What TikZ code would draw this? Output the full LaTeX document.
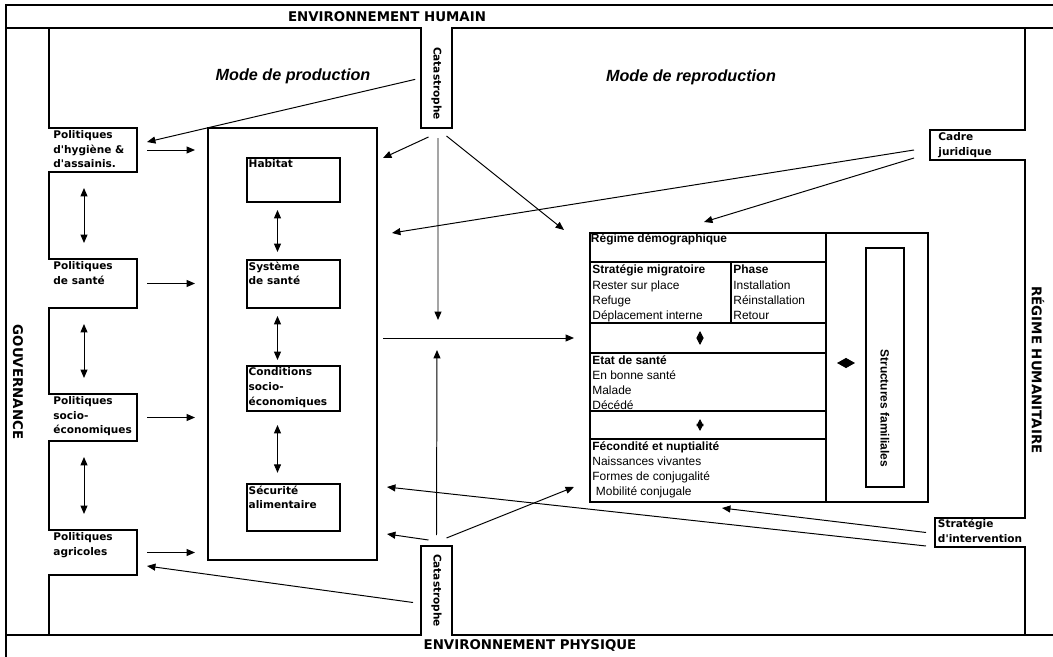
\documentclass[tikz,border=0pt]{standalone}
\usepackage{fontspec}
\newfontfamily\verd{DejaVu Sans}
\newfontfamily\arial{Liberation Sans}
\usetikzlibrary{arrows.meta,fit}

\begin{document}
\begin{tikzpicture}[x=0.025cm, y=-0.025cm,
    frame/.style={line width=1.1pt},
    zone/.style={inner sep=0pt, outer sep=0pt},
    cell/.style={draw, line width=0.8pt, inner sep=0pt, outer sep=0pt},
    vb/.style={font=\verd\bfseries\fontsize{7.5}{10.5}\selectfont},
    band/.style={font=\verd\bfseries\fontsize{9.5}{11}\selectfont},
    ar/.style={font=\arial\fontsize{8.5}{10.7}\selectfont},
    mode/.style={font=\arial\bfseries\itshape\fontsize{11.5}{13}\selectfont},
    txt/.style={anchor=north west, align=left, inner sep=1.5pt},
    arr/.style={-{Triangle[length=6pt,width=5pt]}, line width=0.7pt},
    dbl/.style={{Triangle[length=6pt,width=5pt]}-{Triangle[length=6pt,width=5pt]}, line width=0.7pt},
    vdia/.style={{Triangle[length=5pt,width=5pt]}-{Triangle[length=5pt,width=5pt]}, line width=0.7pt, shorten <=0.2cm, shorten >=0.2cm},
    hdia/.style={{Triangle[length=6.4pt,width=7pt]}-{Triangle[length=6.4pt,width=7pt]}, line width=0.7pt, shorten <=0.275cm, shorten >=0.275cm}
]
\useasboundingbox (0,0) rectangle (1053,657);

% zones cut into the bands
\node[zone, fit={(421,28) (452,128)}] (catH) {};
\node[zone, fit={(421,546) (452,635)}] (catB) {};
\node[zone, fit={(49,128) (137,172)}] (hyg) {};
\node[zone, fit={(49,259) (137,308)}] (sante) {};
\node[zone, fit={(49,394) (137,441)}] (socio) {};
\node[zone, fit={(49,530) (137,575)}] (agri) {};
\node[zone, fit={(930,130) (1025,160)}] (cadre) {};
\node[zone, fit={(935,518) (1025,547)}] (interv) {};

% frame
\draw[frame] (6,657) -- (6,5) -- (1053,5);
\draw[frame] (6,28) -- (catH.north west) -- (catH.south west) -- (catH.south east) -- (catH.north east) -- (1053,28);
\draw[frame] (6,635) -- (catB.south west) -- (catB.north west) -- (catB.north east) -- (catB.south east) -- (1053,635);
\draw[frame] (49,28) -- (hyg.north west) -- (hyg.north east) -- (hyg.south east) -- (hyg.south west)
  -- (sante.north west) -- (sante.north east) -- (sante.south east) -- (sante.south west)
  -- (socio.north west) -- (socio.north east) -- (socio.south east) -- (socio.south west)
  -- (agri.north west) -- (agri.north east) -- (agri.south east) -- (agri.south west) -- (49,635);
\draw[frame] (1025,28) -- (cadre.north east) -- (cadre.north west) -- (cadre.south west) -- (cadre.south east)
  -- (interv.north east) -- (interv.north west) -- (interv.south west) -- (interv.south east) -- (1025,635);

% band texts
\node[band] (envh) at (387,16.5) {ENVIRONNEMENT HUMAIN};
\node[band] (envp) at (530,646) {ENVIRONNEMENT PHYSIQUE};
\node[band, rotate=-90] (gouv) at (18,382) {GOUVERNANCE};
\node[band, rotate=-90] (humani) at (1038,370) {RÉGIME HUMANITAIRE};
\node[mode] (prod) at (293,76) {Mode de production};
\node[mode] (repro) at (691,77) {Mode de reproduction};

\node[vb, rotate=-90, anchor=east] (catHt) at ([yshift=0.075cm]catH.south) {Catastrophe};
\node[vb, rotate=-90, anchor=east] (catBt) at ([yshift=0.075cm]catB.south) {Catastrophe};
\node[vb, txt] (hygt) at ([xshift=0.05cm]hyg.north west) {Politiques\\d'hygiène \&\\d'assainis.};
\node[vb, txt] (santet) at ([xshift=0.05cm]sante.north west) {Politiques\\de santé};
\node[vb, txt] (sociot) at ([xshift=0.05cm]socio.north west) {Politiques\\socio-\\économiques};
\node[vb, txt] (agrit) at ([xshift=0.05cm]agri.north west) {Politiques\\agricoles};
\node[vb, txt] (cadret) at ([xshift=0.15cm]cadre.north west) {Cadre\\juridique};
\node[vb, txt, inner sep=0.5pt] (intervt) at ([xshift=0.05cm]interv.north west) {Stratégie\\d'intervention};

% mode de production
\node[cell, fit={(208,128) (377,560)}] (centre) {};
\node[cell, fit={(247,158) (340,202)}] (hab) {};
\node[cell, fit={(247,260) (340,308)}] (sys) {};
\node[cell, fit={(247,366) (340,411)}] (cond) {};
\node[cell, fit={(247,484) (340,531)}] (secu) {};
\node[vb, txt, inner sep=1pt] (habt) at (hab.north west) {Habitat};
\node[vb, txt, inner sep=1pt] (syst) at (sys.north west) {Système\\de santé};
\node[vb, txt, inner sep=1pt] (condt) at (cond.north west) {Conditions\\socio-\\économiques};
\node[vb, txt, inner sep=1pt] (secut) at (secu.north west) {Sécurité\\alimentaire};

% mode de reproduction
\node[cell, fit={(590,233) (928,502)}] (regime) {};
\node[cell, fit={(590,233) (826,262)}] (rdemo) {};
\node[cell, fit={(590,262) (731,323)}] (strat) {};
\node[cell, fit={(731,262) (826,323)}] (phase) {};
\node[cell, fit={(590,323) (826,353)}] (gap1) {};
\node[cell, fit={(590,353) (826,411)}] (etat) {};
\node[cell, fit={(590,411) (826,439)}] (gap2) {};
\node[cell, fit={(590,439) (826,502)}] (fecond) {};
\node[cell, fit={(866,248) (904,487)}] (famil) {};
\node[ar, txt, inner sep=0.5pt] (rdemot) at (rdemo.north west) {\textbf{Régime démographique}};
\node[ar, txt] (stratt) at (strat.north west) {\textbf{Stratégie migratoire}\\[1pt]Rester sur place\\Refuge\\Déplacement interne};
\node[ar, txt] (phaset) at (phase.north west) {\textbf{Phase}\\[1pt]Installation\\Réinstallation\\Retour};
\node[ar, txt] (etatt) at (etat.north west) {\textbf{Etat de santé}\\En bonne santé\\Malade\\Décédé};
\node[ar, txt] (fecondt) at (fecond.north west) {\textbf{Fécondité et nuptialité}\\Naissances vivantes\\Formes de conjugalité\\\hspace{0.3em}Mobilité conjugale};
\node[ar, font=\arial\bfseries\fontsize{8.5}{10}\selectfont, rotate=-90, anchor=east] (familt) at ([yshift=0.375cm]famil.south) {Structures familiales};

% free ends of the arrows
\coordinate (hdA) at (147,142);
\coordinate (hdB) at (383,158);
\coordinate (hdC) at (438,320);
\coordinate (hdD) at (564,230);
\coordinate (hdE) at (392,233);
\coordinate (hdF) at (704,222);
\coordinate (hdG) at (574,338);
\coordinate (hdH) at (437,350);
\coordinate (hdI) at (387,534);
\coordinate (hdJ) at (574,487);
\coordinate (hdK) at (147,566);
\coordinate (hdL) at (722,508);
\coordinate (hdM) at (387,487);

% arrows
\foreach \b in {hyg,sante,socio,agri}
  \draw[arr] ([xshift=0.25cm]\b.east) -- ([xshift=-0.325cm]\b.east -| centre.west);
\draw[dbl, shorten <=0.4cm, shorten >=0.4cm] ([xshift=-0.225cm]hyg.south) -- ([xshift=-0.225cm]sante.north);
\draw[dbl, shorten <=0.4cm, shorten >=0.4cm] ([xshift=-0.225cm]sante.south) -- ([xshift=-0.225cm]socio.north);
\draw[dbl, shorten <=0.4cm, shorten >=0.4cm] ([xshift=-0.225cm]socio.south) -- ([xshift=-0.225cm]agri.north);
\draw[dbl, shorten <=0.2cm, shorten >=0.2cm] ([xshift=-0.4cm]hab.south) -- ([xshift=-0.4cm]sys.north);
\draw[dbl, shorten <=0.2cm, shorten >=0.15cm] ([xshift=-0.4cm]sys.south) -- ([xshift=-0.4cm]cond.north);
\draw[dbl, shorten <=0.35cm, shorten >=0.28cm] ([xshift=-0.4cm]cond.south) -- ([xshift=-0.4cm]secu.north);

\draw[arr, shorten <=0.15cm] (catH.west) -- (hdA);
\draw[arr] ([shift={(-8,9)}]catH.south) -- (hdB);
\draw[arr] ([shift={(1.5,10)}]catH.south) -- (hdC);
\draw[arr] ([shift={(10,8)}]catH.south) -- (hdD);
\draw[arr] ([shift={(-16,5)}]cadre.west) -- (hdE);
\draw[arr] ([shift={(-16,13)}]cadre.west) -- (hdF);
\draw[arr] ([shift={(6,-6)}]centre.east) -- (hdG);
\draw[arr] ([shift={(0,-11)}]catB.north) -- (hdH);
\draw[arr] ([shift={(-8,-6)}]catB.north) -- (hdI);
\draw[arr] ([shift={(10,-8)}]catB.north) -- (hdJ);
\draw[arr] ([shift={(-8,12)}]catB.west) -- (hdK);
\draw[arr] ([shift={(-9,0)}]interv.west) -- (hdL);
\draw[arr] ([shift={(-9,13.5)}]interv.west) -- (hdM);

\draw[vdia] ([xshift=-0.2cm]gap1.north) -- ([xshift=-0.2cm]gap1.south);
\draw[vdia] ([xshift=-0.2cm]gap2.north) -- ([xshift=-0.2cm]gap2.south);
\draw[hdia] ([yshift=0.475cm]etat.east) -- ([yshift=0.475cm]etat.east -| famil.west);
\end{tikzpicture}
\end{document}
